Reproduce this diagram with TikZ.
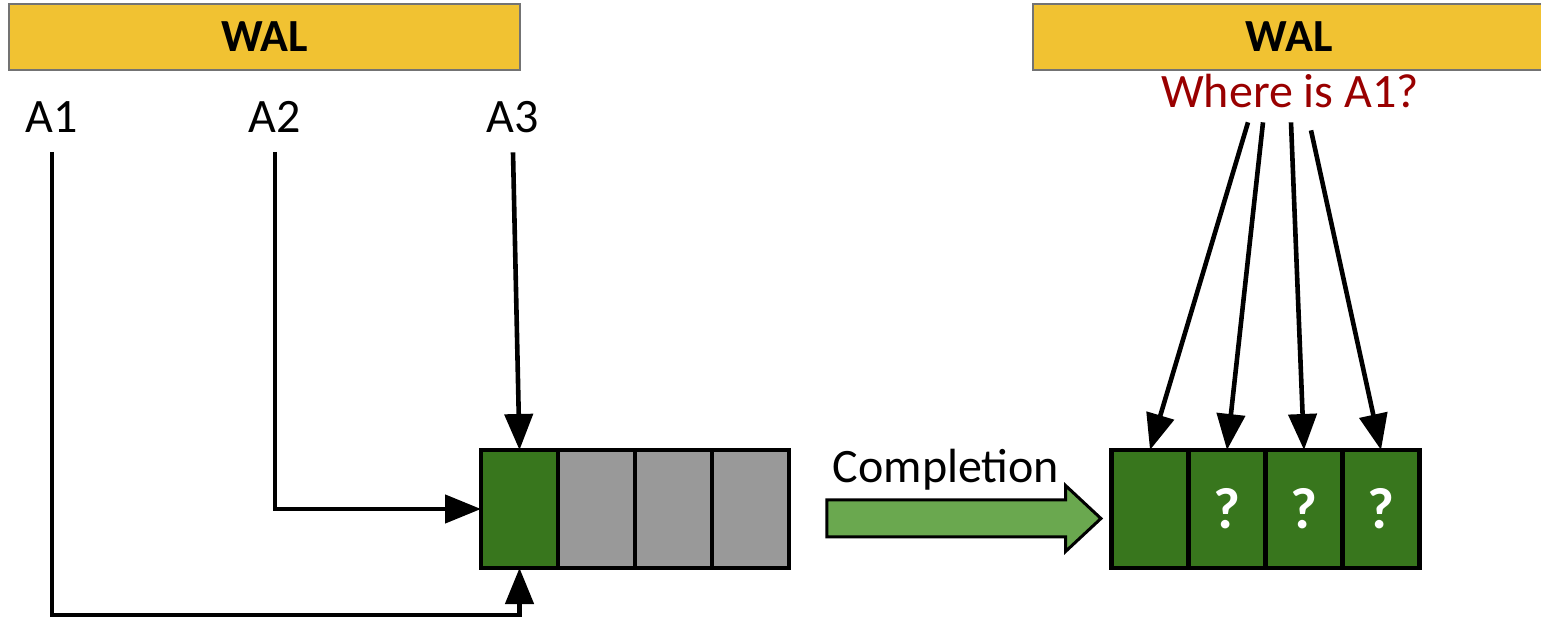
\documentclass[tikz,border=0pt]{standalone}
\usepackage{fontspec}
\setmainfont{Carlito}
\usetikzlibrary{arrows.meta,positioning,shapes.arrows}
\definecolor{walyellow}{HTML}{F1C232}
\definecolor{cellgreen}{HTML}{38761D}
\definecolor{cellgray}{HTML}{999999}
\definecolor{arrowgreen}{HTML}{6AA84F}
\definecolor{askred}{HTML}{990000}

\begin{document}
\begin{tikzpicture}[x=0.5pt,y=-0.5pt,
                    every node/.style = {font=\fontsize{24}{28}\selectfont, inner sep=0pt, outer sep=0pt},
                    walbar/.style = {draw=black!55, line width=1pt, fill=walyellow,
                                     minimum height=33pt, font=\fontsize{23}{28}\selectfont\bfseries},
                    cell/.style = {draw, line width=2.2pt, fill=cellgreen, minimum width=38.5pt,
                                   minimum height=59pt, text=white, font=\fontsize{29}{32}\selectfont\bfseries},
                    spare/.style = {cell, fill=cellgray},
                    wire/.style = {line width=2.3pt, -{Triangle[length=18pt,width=14pt]}}]
    \useasboundingbox (0,0) rectangle (1541,619);
    % log bars
    \node[walbar, minimum width=255.5pt] (walL) at (264.5,37) {WAL};
    \node[walbar, minimum width=256pt] (walR) at (1289,37) {WAL};
    % records
    \node[anchor=base] (a1) at (52,133) {A1};
    \node[anchor=base] (a2) at (275,133) {A2};
    \node[anchor=base] (a3) at (513,133) {A3};
    % buffer before completion
    \node[cell] (L1) at (519.5,509) {};
    \node[spare, right=0pt of L1] (L2) {};
    \node[spare, right=0pt of L2] (L3) {};
    \node[spare, right=0pt of L3] (L4) {};
    % buffer after completion
    \node[cell] (R1) at (1150,509) {};
    \node[cell, right=0pt of R1] (R2) {\raisebox{-3pt}{?}};
    \node[cell, right=0pt of R2] (R3) {\raisebox{-3pt}{?}};
    \node[cell, right=0pt of R3] (R4) {\raisebox{-3pt}{?}};
    % completion step
    \node[single arrow, draw, line width=1.5pt, fill=arrowgreen, inner xsep=0pt, inner ysep=8.5pt,
          single arrow head extend=7.25pt, single arrow tip angle=86, minimum height=137pt] (done) at (954,518.5) {};
    \node[anchor=base] (donelbl) at (946,483) {Completion};
    \node[anchor=base, text=askred] (ask) at (1290,108) {Where is A1?};
    % writes
    \draw[wire] ([yshift=-9.5pt]a1.south) |- ([yshift=-23.5pt]L1.south) -- (L1.south);
    \draw[wire] ([yshift=-9.5pt]a2.south) |- (L1.west);
    \draw[wire] ([yshift=-9.5pt]a3.south) -- (L1.north);
    % lookups
    \draw[wire] ([shift={(-42,14)}]ask.south) -- (R1.north);
    \draw[wire] ([shift={(-27,14)}]ask.south) -- (R2.north);
    \draw[wire] ([shift={(1,14)}]ask.south) -- (R3.north);
    \draw[wire] ([shift={(21,22)}]ask.south) -- (R4.north);
\end{tikzpicture}
\end{document}
